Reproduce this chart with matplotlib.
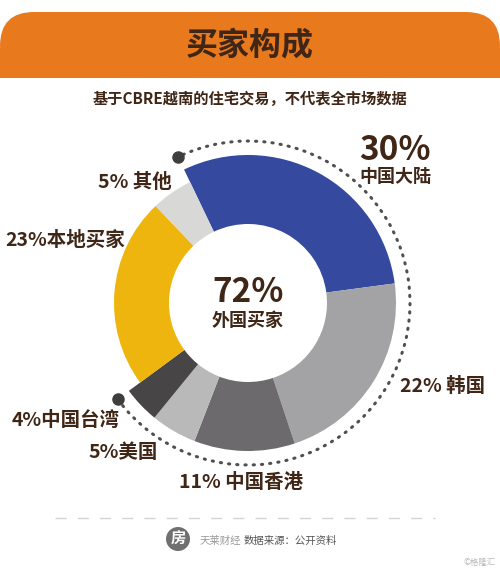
import matplotlib.pyplot as plt
import numpy as np
from matplotlib.patches import Wedge, Arc, FancyBboxPatch, Rectangle, Circle

plt.rcParams['font.family'] = ['Noto Sans CJK SC', 'DejaVu Sans']

#   Data
labels = ['中国大陆', '韩国', '中国香港', '美国', '中国台湾', '本地买家', '其他']
shares = [30, 22, 11, 5, 4, 23, 5]
is_foreign = [True, True, True, True, True, False, False]
colors = ['#354a9e', '#a3a2a4', '#6c6a6c', '#bab9ba', '#474546', '#eeb50f', '#d8d8d6']

title_str = '买家构成'
subtitle_str = '基于CBRE越南的住宅交易，不代表全市场数据'
center_label = '外国买家'
source_str = '数据来源：公开资料'
brand_str = '天莱财经'
watermark_str = '©格隆汇'

TEXT = '#3f2616'
W, H = 500, 570


def Y(y_img):
    # picture rows counted from the top -> axes y counted from the bottom
    return H - y_img


#   Figure Setting
fig = plt.figure(figsize=(5, 5.7), dpi=100)
ax = fig.add_axes([0, 0, 1, 1])
ax.set_xlim(0, W)
ax.set_ylim(0, H)
ax.set_aspect('equal')
ax.axis('off')

#   Header banner
ax.add_patch(FancyBboxPatch((0, Y(78)), W, 66, boxstyle='round,pad=0,rounding_size=34',
                            fc='#e8791d', ec='none'))
ax.add_patch(Rectangle((0, Y(78)), W, 30, fc='#e8791d', ec='none'))
ax.text(250, Y(45), title_str, ha='center', va='center', fontsize=23, fontweight='black', color=TEXT)
ax.text(250, Y(99), subtitle_str, ha='center', va='center', fontsize=11, fontweight='black', color=TEXT)

#   Donut with two outer radii
cx, cy = 248, Y(303)
r_in, r_foreign, r_local = 79, 148, 134
start = 115.6
theta = start
for share, col, foreign in zip(shares, colors, is_foreign):
    span = share / 100. * 360.
    r_out = r_foreign if foreign else r_local
    ax.add_patch(Wedge((cx, cy), r_out, theta - span, theta, width=r_out - r_in, fc=col, ec='none'))
    theta -= span

#   Dotted arc round the foreign slices
foreign_total = sum(s for s, f in zip(shares, is_foreign) if f)
arc_r = 162
a_end = start
a_begin = start - foreign_total / 100. * 360.
ax.add_patch(Arc((cx, cy), 2 * arc_r, 2 * arc_r, theta1=a_begin, theta2=a_end,
                 color='#505050', lw=2.2, linestyle=(0, (0.4, 2.3)), capstyle='round'))
for a in (a_begin, a_end):
    ax.plot(cx + arc_r * np.cos(np.radians(a)), cy + arc_r * np.sin(np.radians(a)),
            'o', color='#3e3e3e', ms=8)

#   Centre text
ax.text(cx, Y(292), '%d%%' % foreign_total, ha='center', va='center', fontsize=24,
        fontweight='black', color=TEXT)
ax.text(cx, Y(320), center_label, ha='center', va='center', fontsize=13, fontweight='black', color=TEXT)

#   Slice labels
ax.text(395, Y(150), '%d%%' % shares[0], ha='center', va='center', fontsize=24, fontweight='black', color=TEXT)
ax.text(395, Y(177), labels[0], ha='center', va='center', fontsize=13, fontweight='black', color=TEXT)
lab_pos = {
    1: (400, 386, 'left', ' '),
    2: (241, 482, 'center', ' '),
    3: (158, 453, 'right', ''),
    4: (120, 420, 'right', ''),
    5: (125, 240, 'right', ''),
    6: (172, 183, 'right', ' '),
}
for i, (x, y, ha, sep) in lab_pos.items():
    ax.text(x, Y(y), '%d%%%s%s' % (shares[i], sep, labels[i]), ha=ha, va='center',
            fontsize=14, fontweight='black', color=TEXT)

#   Footer
ax.plot([55, 435], [Y(518), Y(518)], color='#d4d4d4', lw=1, linestyle=(0, (8, 8)))
ax.add_patch(Circle((178, Y(539)), 12, fc='#707070', ec='none'))
ax.text(178, Y(539), '房', ha='center', va='center', fontsize=11, fontweight='bold', color='white')
ax.text(200, Y(541), brand_str, ha='left', va='center', fontsize=7.5, color='#9a9a9a')
ax.text(244, Y(541), source_str, ha='left', va='center', fontsize=7.5, color='#555555')
ax.text(496, Y(562), watermark_str, ha='right', va='center', fontsize=6, color='#b8b8b8')

fig.savefig('out.png', dpi=100, facecolor='white')
